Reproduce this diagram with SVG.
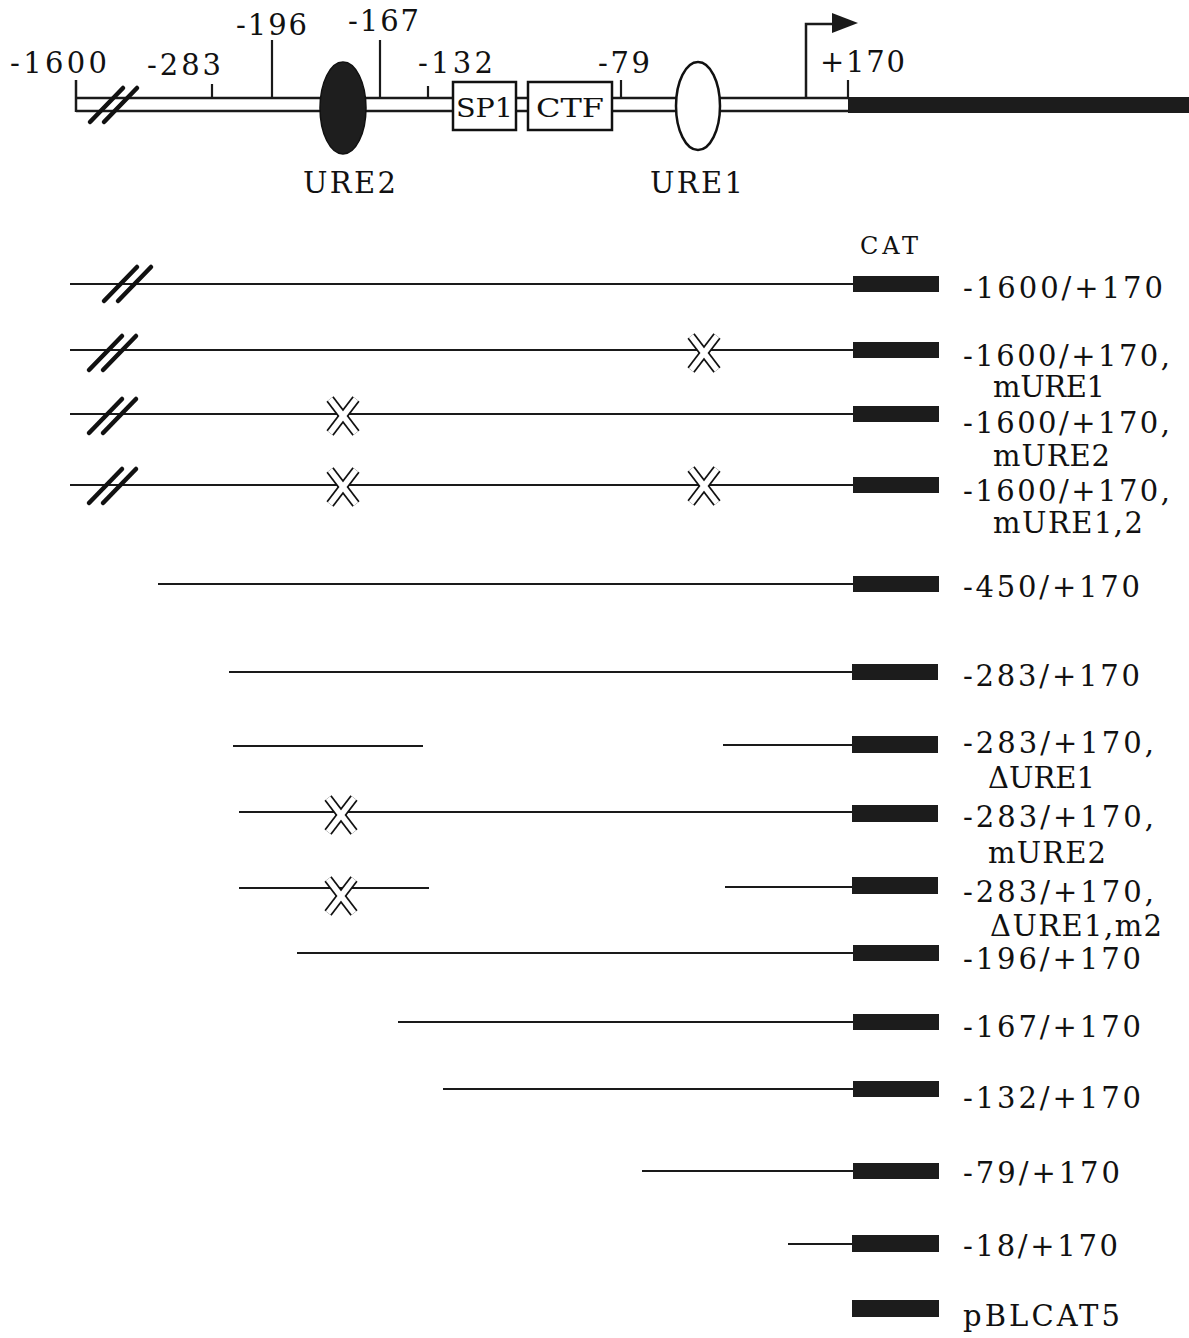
<svg xmlns="http://www.w3.org/2000/svg" width="1189" height="1338" viewBox="0 0 1189 1338">
<style>
text{font-family:"DejaVu Serif","Liberation Serif",serif;fill:#111;font-weight:normal;}
.lbl{font-size:29px;}
.top{font-size:29px;}
.ln{stroke:#1a1a1a;stroke-width:2.2;fill:none;}
.dl{stroke:#1a1a1a;stroke-width:2.5;fill:none;}
.bar{fill:#1c1c1c;}
.sl{stroke:#111;stroke-width:4.5;stroke-linecap:round;}
.xo{stroke:#111;stroke-width:9;stroke-linecap:butt;}
.xi{stroke:#fff;stroke-width:5.5;stroke-linecap:butt;}
.box{fill:#fff;stroke:#111;stroke-width:2.5;}
</style>
<defs>
<g id="xmark">
<line class="xo" x1="-13" y1="-17" x2="13" y2="17"/>
<line class="xo" x1="13" y1="-17" x2="-13" y2="17"/>
<line class="xi" x1="-13" y1="-17" x2="13" y2="17"/>
<line class="xi" x1="13" y1="-17" x2="-13" y2="17"/>
</g>
<g id="slash">
<line class="sl" x1="0" y1="17" x2="33" y2="-17"/>
<line class="sl" x1="14" y1="17" x2="47" y2="-17"/>
</g>
</defs>

<g id="map">
<line class="dl" x1="76" y1="98" x2="848" y2="98"/>
<line class="dl" x1="76" y1="111" x2="848" y2="111"/>
<line class="dl" x1="76" y1="80" x2="76" y2="112"/>
<rect class="bar" x="848" y="97" width="341" height="16"/>
<line class="ln" x1="212" y1="84" x2="212" y2="98"/>
<line class="ln" x1="272" y1="40" x2="272" y2="98"/>
<line class="ln" x1="380" y1="40" x2="380" y2="98"/>
<line class="ln" x1="428" y1="86" x2="428" y2="98"/>
<line class="ln" x1="621" y1="80" x2="621" y2="98"/>
<line class="ln" x1="848" y1="80" x2="848" y2="98"/>
<use href="#slash" x="90" y="105"/>
<text class="top" x="10" y="73" textLength="97" lengthAdjust="spacing">-1600</text>
<text class="top" x="147" y="75" textLength="74" lengthAdjust="spacing">-283</text>
<text class="top" x="236" y="35" textLength="71" lengthAdjust="spacing">-196</text>
<text class="top" x="348" y="31" textLength="71" lengthAdjust="spacing">-167</text>
<text class="top" x="418" y="73" textLength="75" lengthAdjust="spacing">-132</text>
<text class="top" x="598" y="73" textLength="52" lengthAdjust="spacing">-79</text>
<text class="top" x="820" y="72" textLength="85" lengthAdjust="spacing">+170</text>
</g>
<g id="ure2">
<ellipse cx="343" cy="108" rx="23" ry="46" fill="#1e1e1e" stroke="#111" stroke-width="1.5"/>
<text class="top" x="303" y="193" textLength="93" lengthAdjust="spacing">URE2</text>
</g>
<g id="sp1">
<rect class="box" x="453" y="82" width="63" height="48"/>
<text x="456" y="117" style="font-size:26px" textLength="57" lengthAdjust="spacingAndGlyphs">SP1</text>
</g>
<g id="ctf">
<rect class="box" x="528" y="82" width="84" height="48"/>
<text x="536" y="117" style="font-size:26px" textLength="68" lengthAdjust="spacingAndGlyphs">CTF</text>
</g>
<g id="ure1">
<ellipse cx="698" cy="106" rx="22" ry="44" fill="#fff" stroke="#111" stroke-width="2.5"/>
<text class="top" x="650" y="193" textLength="93" lengthAdjust="spacing">URE1</text>
</g>
<g id="tss">
<polyline class="dl" points="806,98 806,24 836,24"/>
<polygon points="832,13 858,23 832,33" fill="#1a1a1a"/>
</g>

<text x="860" y="254" style="font-size:24px" textLength="58" lengthAdjust="spacing">CAT</text>

<g id="connectors">
<line class="ln" x1="70" y1="284" x2="853" y2="284"/>
<line class="ln" x1="70" y1="350" x2="853" y2="350"/>
<line class="ln" x1="70" y1="414" x2="853" y2="414"/>
<line class="ln" x1="70" y1="485" x2="853" y2="485"/>
<line class="ln" x1="158" y1="584" x2="853" y2="584"/>
<line class="ln" x1="229" y1="672" x2="853" y2="672"/>
<line class="ln" x1="233" y1="746" x2="423" y2="746"/>
<line class="ln" x1="723" y1="745" x2="853" y2="745"/>
<line class="ln" x1="239" y1="812" x2="853" y2="812"/>
<line class="ln" x1="239" y1="888" x2="429" y2="888"/>
<line class="ln" x1="725" y1="887" x2="853" y2="887"/>
<line class="ln" x1="297" y1="953" x2="853" y2="953"/>
<line class="ln" x1="398" y1="1022" x2="853" y2="1022"/>
<line class="ln" x1="443" y1="1089" x2="853" y2="1089"/>
<line class="ln" x1="642" y1="1171" x2="853" y2="1171"/>
<line class="ln" x1="788" y1="1244" x2="853" y2="1244"/>
</g>

<g id="row1">
<use href="#slash" x="104" y="284"/>
<rect class="bar" x="853" y="276" width="86" height="16"/>
<text class="lbl" x="963" y="298" textLength="200" lengthAdjust="spacing">-1600/+170</text>
</g>
<g id="row2">
<use href="#slash" x="89" y="353"/>
<use href="#xmark" x="704" y="353"/>
<rect class="bar" x="853" y="342" width="86" height="16"/>
<text class="lbl" x="963" y="366" textLength="207" lengthAdjust="spacing">-1600/+170,</text>
<text class="lbl" x="993" y="397" textLength="112" lengthAdjust="spacing">mURE1</text>
</g>
<g id="row3">
<use href="#slash" x="89" y="416"/>
<use href="#xmark" x="343" y="416"/>
<rect class="bar" x="853" y="406" width="86" height="16"/>
<text class="lbl" x="963" y="433" textLength="207" lengthAdjust="spacing">-1600/+170,</text>
<text class="lbl" x="993" y="466" textLength="117" lengthAdjust="spacing">mURE2</text>
</g>
<g id="row4">
<use href="#slash" x="89" y="486"/>
<use href="#xmark" x="343" y="487"/>
<use href="#xmark" x="704" y="486"/>
<rect class="bar" x="853" y="477" width="86" height="16"/>
<text class="lbl" x="963" y="501" textLength="207" lengthAdjust="spacing">-1600/+170,</text>
<text class="lbl" x="993" y="533" textLength="150" lengthAdjust="spacing">mURE1,2</text>
</g>
<g id="row5">
<rect class="bar" x="853" y="576" width="86" height="16"/>
<text class="lbl" x="963" y="597" textLength="177" lengthAdjust="spacing">-450/+170</text>
</g>
<g id="row6">
<rect class="bar" x="852" y="664" width="86" height="16"/>
<text class="lbl" x="963" y="686" textLength="177" lengthAdjust="spacing">-283/+170</text>
</g>
<g id="row7">
<rect class="bar" x="852" y="736" width="86" height="17"/>
<text class="lbl" x="963" y="753" textLength="191" lengthAdjust="spacing">-283/+170,</text>
<text class="lbl" x="988" y="788" textLength="107" lengthAdjust="spacing">ΔURE1</text>
</g>
<g id="row8">
<use href="#xmark" x="341" y="815"/>
<rect class="bar" x="852" y="805" width="86" height="17"/>
<text class="lbl" x="963" y="827" textLength="191" lengthAdjust="spacing">-283/+170,</text>
<text class="lbl" x="988" y="863" textLength="118" lengthAdjust="spacing">mURE2</text>
</g>
<g id="row9">
<use href="#xmark" x="341" y="896"/>
<rect class="bar" x="852" y="877" width="86" height="17"/>
<text class="lbl" x="963" y="902" textLength="191" lengthAdjust="spacing">-283/+170,</text>
<text class="lbl" x="990" y="936" textLength="172" lengthAdjust="spacing">ΔURE1,m2</text>
</g>
<g id="row10">
<rect class="bar" x="853" y="945" width="86" height="16"/>
<text class="lbl" x="963" y="969" textLength="178" lengthAdjust="spacing">-196/+170</text>
</g>
<g id="row11">
<rect class="bar" x="853" y="1014" width="86" height="16"/>
<text class="lbl" x="963" y="1037" textLength="178" lengthAdjust="spacing">-167/+170</text>
</g>
<g id="row12">
<rect class="bar" x="853" y="1081" width="86" height="16"/>
<text class="lbl" x="963" y="1108" textLength="178" lengthAdjust="spacing">-132/+170</text>
</g>
<g id="row13">
<rect class="bar" x="853" y="1163" width="86" height="16"/>
<text class="lbl" x="963" y="1183" textLength="157" lengthAdjust="spacing">-79/+170</text>
</g>
<g id="row14">
<rect class="bar" x="852" y="1235" width="87" height="17"/>
<text class="lbl" x="963" y="1256" textLength="155" lengthAdjust="spacing">-18/+170</text>
</g>
<g id="row15">
<rect class="bar" x="852" y="1300" width="87" height="17"/>
<text class="lbl" x="963" y="1326" textLength="157" lengthAdjust="spacing">pBLCAT5</text>
</g>
</svg>
